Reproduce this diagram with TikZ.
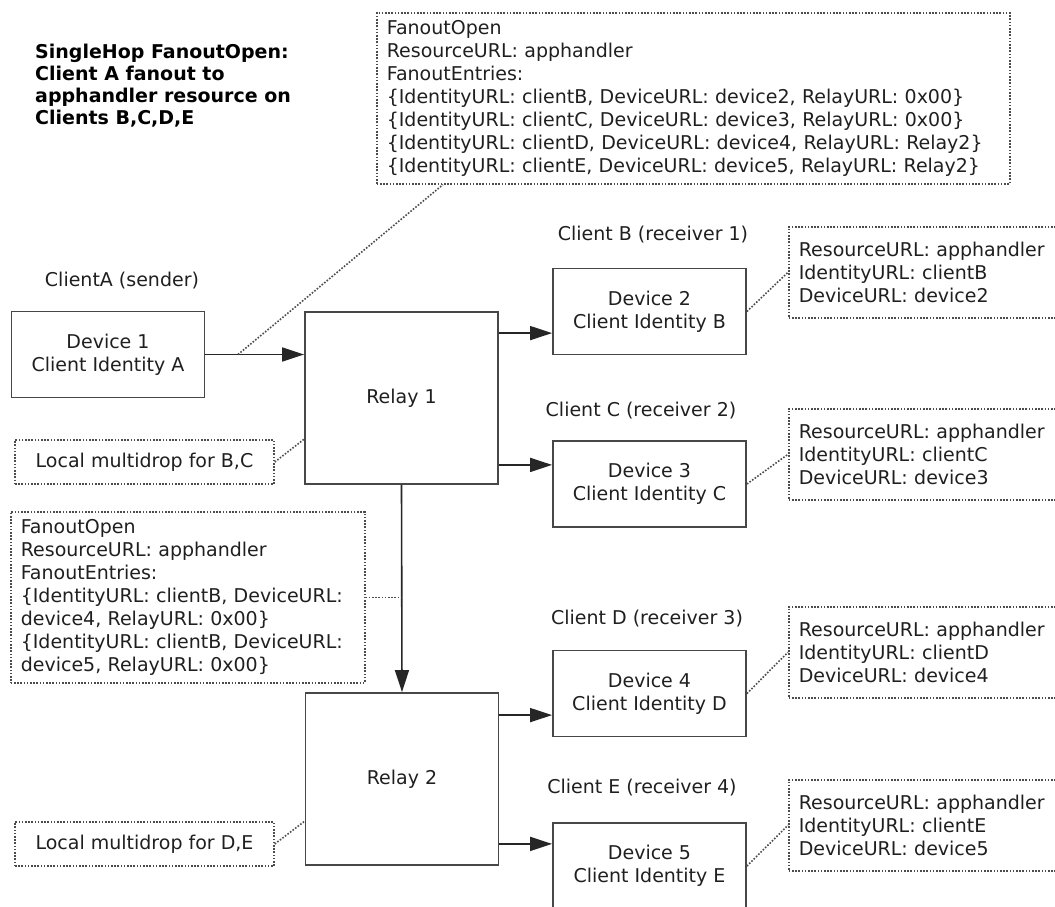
\documentclass[tikz,border=0pt]{standalone}
\usepackage{fontspec}
\setmainfont{DejaVu Sans}
\usepackage{tikz}
\usetikzlibrary{calc}
\usetikzlibrary{arrows.meta}

\begin{document}
\begin{tikzpicture}[x=1pt,y=-1pt,
  every node/.style={font=\fontsize{19}{23}\selectfont, text=black!88},
  dev/.style={draw=black!72, line width=1.8pt, minimum width=193pt, minimum height=86pt, align=center, inner sep=0pt},
  relay/.style={dev, minimum height=172pt},
  note/.style={draw=black!70, line width=1.6pt, dash pattern=on 1.6pt off 1.6pt, align=left, anchor=north west, inner xsep=10pt, inner ysep=0pt},
  hop/.style={->, >={Triangle[length=22pt,width=14pt]}, draw=black!85, line width=1.6pt},
  lead/.style={draw=black!70, line width=1.6pt, dash pattern=on 1.6pt off 1.6pt}]
\useasboundingbox (0,0) rectangle (1055,907);
\clip (0,0) rectangle (1055,907);

\node[anchor=north west, align=left, inner sep=0pt, text=black, font=\bfseries\fontsize{19}{22}\selectfont] (title) at (35,44)
  {SingleHop FanoutOpen:\\Client A fanout to\\apphandler resource on\\Clients B,C,D,E};

% sender and relays
\node (la) at (122,281) {ClientA (sender)};
\node[dev] (d1) at (108,354.5) {Device 1\\Client Identity A};
\node[relay] (r1) at (401.5,398) {Relay 1};
\node[relay] (r2) at (402,779) {Relay 2};

% receivers
\node (lb) at (653,235) {Client B (receiver 1)};
\node[dev] (d2) at (649.5,311.5) {Device 2\\Client Identity B};
\node (lc) at (641,411) {Client C (receiver 2)};
\node[dev] (d3) at (649.5,484) {Device 3\\Client Identity C};
\node (ld) at (647,619) {Client D (receiver 3)};
\node[dev] (d4) at (649.5,693.5) {Device 4\\Client Identity D};
\node (le) at (642,788) {Client E (receiver 4)};
\node[dev] (d5) at (649.5,866) {Device 5\\Client Identity E};

% notes
\node[note, text width=613pt, minimum height=171pt] (fan1) at (376,12)
  {FanoutOpen\\ResourceURL: apphandler\\FanoutEntries:\\
   \{IdentityURL: clientB, DeviceURL: device2, RelayURL: 0x00\}\\
   \{IdentityURL: clientC, DeviceURL: device3, RelayURL: 0x00\}\\
   \{IdentityURL: clientD, DeviceURL: device4, RelayURL: Relay2\}\\
   \{IdentityURL: clientE, DeviceURL: device5, RelayURL: Relay2\}};
\node[note, text width=334pt, minimum height=171pt] (fan2) at (10,511)
  {FanoutOpen\\ResourceURL: apphandler\\FanoutEntries:\\
   \{IdentityURL: clientB, DeviceURL:\\device4, RelayURL: 0x00\}\\
   \{IdentityURL: clientB, DeviceURL:\\device5, RelayURL: 0x00\}};
\node[note, anchor=center, minimum width=259pt, minimum height=44pt] (mbc) at (144.5,462) {Local multidrop for B,C};
\node[note, anchor=center, minimum width=259pt, minimum height=44pt] (mde) at (144.5,844) {Local multidrop for D,E};
\node[note, text width=260pt, minimum height=91pt] (nb) at (788,226) {ResourceURL: apphandler\\IdentityURL: clientB\\DeviceURL: device2};
\node[note, text width=260pt, minimum height=91pt] (nc) at (788,408) {ResourceURL: apphandler\\IdentityURL: clientC\\DeviceURL: device3};
\node[note, text width=260pt, minimum height=91pt] (nd) at (788,606) {ResourceURL: apphandler\\IdentityURL: clientD\\DeviceURL: device4};
\node[note, text width=260pt, minimum height=91pt] (ne) at (788,779) {ResourceURL: apphandler\\IdentityURL: clientE\\DeviceURL: device5};

% messages
\draw[hop] (d1.east) -- (d1.east -| r1.west);
\draw[hop] ([yshift=-22pt]r1.north east) coordinate (o1) -- (o1 -| d2.west);
\draw[hop] ([yshift=20pt]r1.south east) coordinate (o2) -- (o2 -| d3.west);
\draw[hop] (r1.south) -- (r2.north);
\draw[hop] ([yshift=-23pt]r2.north east) coordinate (o3) -- (o3 -| d4.west);
\draw[hop] ([yshift=22pt]r2.south east) coordinate (o4) -- (o4 -| d5.west);

% leaders
\coordinate (tap1) at ($(d1.east)!0.33!(d1.east -| r1.west)$);
\draw[lead] (tap1) -- ([xshift=67pt]fan1.south west);
\draw[lead] (fan2.east) -- (fan2.east -| r1.south);
\draw[lead] (mbc.east) -- (mbc.north -| r1.west);
\draw[lead] (mde.east) -- (mde.north -| r2.west);
\draw[lead] (d2.east) -- (nb.west);
\draw[lead] (d3.east) -- (nc.west);
\draw[lead] (d4.east) -- (nd.west);
\draw[lead] (d5.east) -- (ne.west);

\end{tikzpicture}
\end{document}
